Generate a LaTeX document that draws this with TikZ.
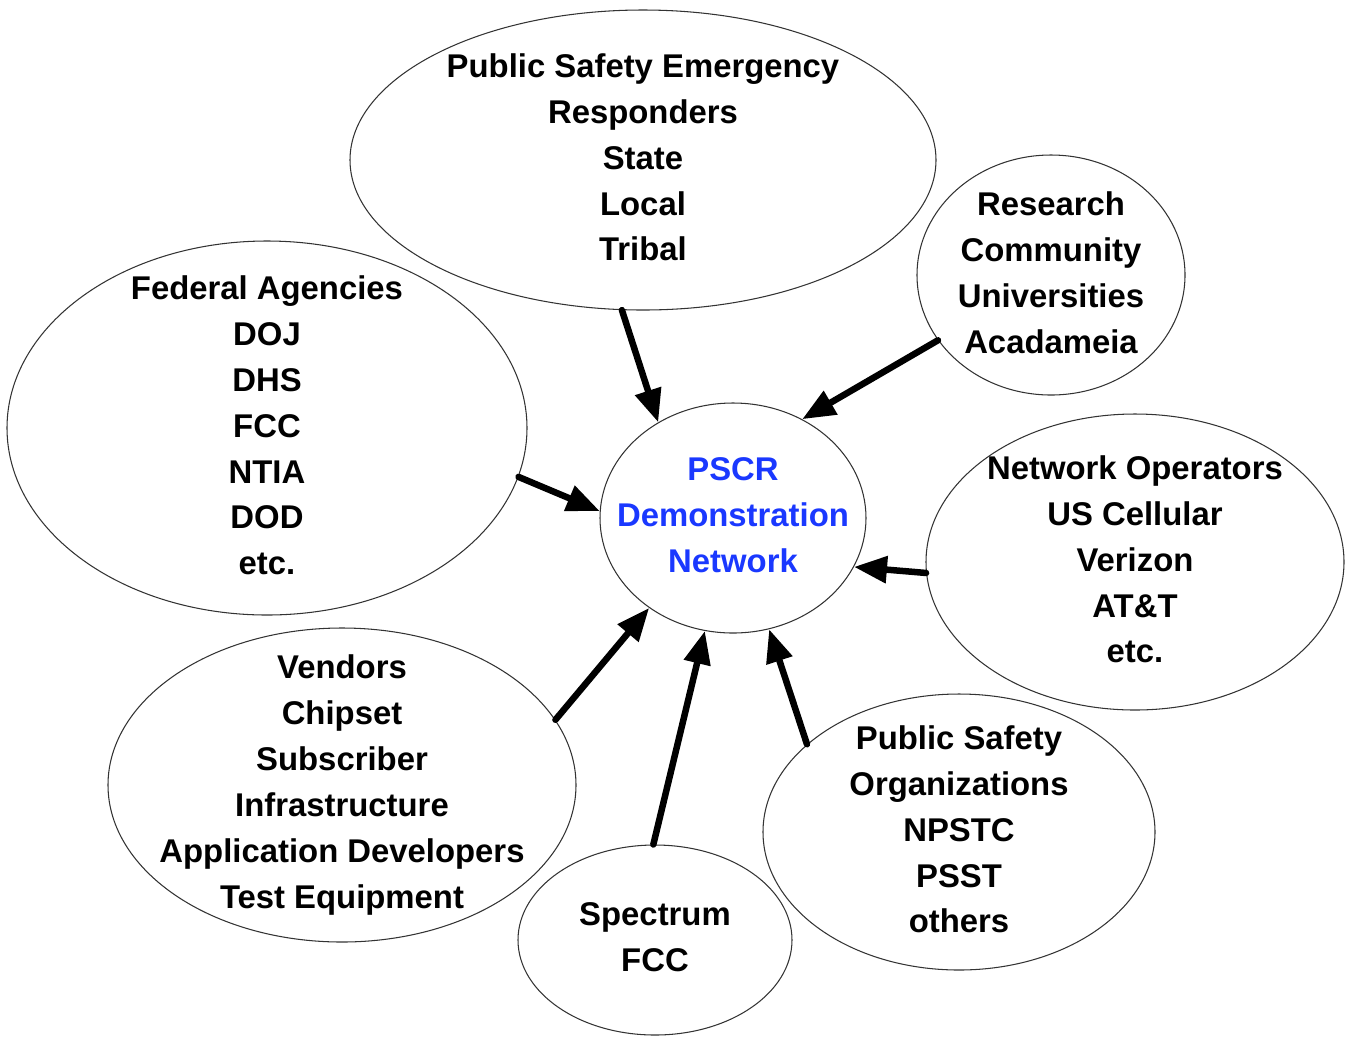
\documentclass[tikz,border=0pt]{standalone}
\usepackage{fontspec}
\setmainfont{Liberation Sans}
\usepackage{tikz}
\usetikzlibrary{shapes.geometric,arrows.meta}
\definecolor{PSInk}{HTML}{000000}
\definecolor{PSRing}{HTML}{333333}
\definecolor{PSBlue}{HTML}{1A38FF}

\tikzset{
  party/.style={ellipse,draw=PSRing,line width=.6pt,inner sep=0pt},
  partytext/.style={align=center,inner sep=0pt,yshift=.05cm,font=\fontsize{18.7}{26.1}\selectfont\bfseries,text=PSInk},
  feed/.style={PSInk,line width=3.7pt,line cap=round,-{Triangle[length=.66cm,width=.52cm]}}
}

\begin{document}
\begin{tikzpicture}[x=0.02cm,y=-0.02cm]
\path[use as bounding box] (0,0) rectangle (1346,1036);
% stakeholder groups
\node[party,minimum width=586*0.02cm,minimum height=300*0.02cm] (resp) at (643,160) {};
\node[partytext] (resp-txt) at (resp) {Public Safety Emergency\\Responders\\State\\Local\\Tribal};
\node[party,minimum width=268*0.02cm,minimum height=240*0.02cm] (research) at (1051,275) {};
\node[partytext] (research-txt) at (research) {Research\\Community\\Universities\\Acadameia};
\node[party,minimum width=520*0.02cm,minimum height=374*0.02cm] (federal) at (267,428) {};
\node[partytext] (federal-txt) at (federal) {Federal Agencies\\DOJ\\DHS\\FCC\\NTIA\\DOD\\etc.};
\node[party,minimum width=266*0.02cm,minimum height=230*0.02cm] (pscr) at (733,518) {};
\node[partytext,text=PSBlue] (pscr-txt) at (pscr) {PSCR\\Demonstration\\Network};
\node[party,minimum width=418*0.02cm,minimum height=296*0.02cm] (operators) at (1135,562) {};
\node[partytext] (operators-txt) at (operators) {Network Operators\\US Cellular\\Verizon\\AT\&T\\etc.};
\node[party,minimum width=468*0.02cm,minimum height=314*0.02cm] (vendors) at (342,785) {};
\node[partytext,yshift=-.05cm] (vendors-txt) at (vendors) {Vendors\\Chipset\\Subscriber\\Infrastructure\\Application Developers\\Test Equipment};
\node[party,minimum width=274*0.02cm,minimum height=190*0.02cm] (spectrum) at (655,940) {};
\node[partytext] (spectrum-txt) at (spectrum) {Spectrum\\FCC};
\node[party,minimum width=392*0.02cm,minimum height=276*0.02cm] (psorgs) at (959,832) {};
\node[partytext] (psorgs-txt) at (psorgs) {Public Safety\\Organizations\\NPSTC\\PSST\\others};
% everything feeds the demo network
\draw[feed] (resp.-98) -- (pscr.128);
\draw[feed] (research.210) -- (pscr.55);
\draw[feed] (federal.-11) -- (pscr.177);
\draw[feed] (operators.183) -- (pscr.-22);
\draw[feed] (vendors.17) -- (pscr.227);
\draw[feed] (spectrum.91) -- (pscr.256);
\draw[feed] (psorgs.150) -- (pscr.-72);
\end{tikzpicture}
\end{document}
